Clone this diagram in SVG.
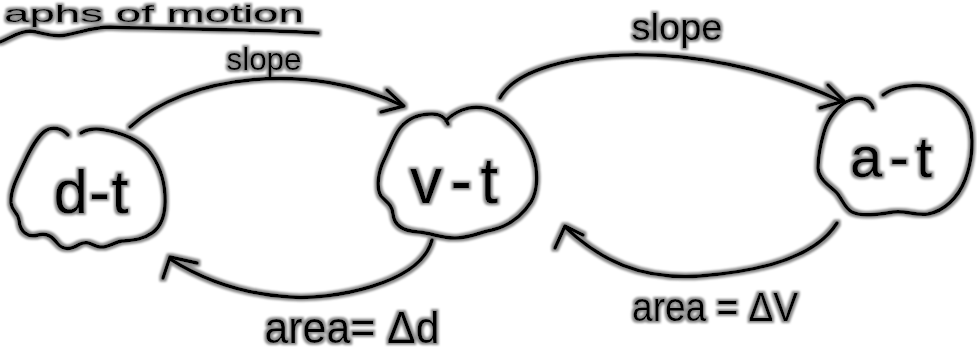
<svg xmlns="http://www.w3.org/2000/svg" width="977" height="360" viewBox="0 0 977 360">
<style>
.ink{fill:none;stroke:#000;stroke-width:3.5;stroke-linecap:round;stroke-linejoin:round}
.t{font-family:"Liberation Sans",Arial,sans-serif;fill:#000;text-anchor:middle}
</style>
<defs>
<filter id="halo" x="-5%" y="-10%" width="110%" height="120%">
<feMorphology in="SourceAlpha" operator="dilate" radius="1.6" result="d"/>
<feGaussianBlur in="d" stdDeviation="1" result="b"/>
<feFlood flood-color="#8a8a8a"/>
<feComposite in2="b" operator="in" result="g"/>
<feMerge><feMergeNode in="g"/><feMergeNode in="SourceGraphic"/></feMerge>
</filter>
</defs>
<rect width="977" height="360" fill="#fff"/>
<g filter="url(#halo)">
<g id="title">
<text x="4" y="22" font-family="Liberation Sans, Arial, sans-serif" font-size="24" textLength="300" lengthAdjust="spacingAndGlyphs">aphs of motion</text>
<path class="ink" d="M0,42 C12,37 20,31 30,31 C42,32 52,38 66,35 C82,32 94,27 110,27 C150,29 250,29 318,33"/>
</g>
<g id="node-dt">
<path class="ink" d="M68,135 C62,128 52,126 45,131 C36,138 30,150 24,163 C18,176 10,190 11,203 C12,212 18,212 19,220 C20,232 28,238 38,235 C48,232 53,238 58,244 C64,251 72,249 80,244 C88,240 93,246 100,247 C108,248 114,242 122,241 C132,240 142,240 152,233 C162,226 166,212 165,195 C164,178 158,162 148,150 C138,140 122,133 105,130 C95,128 86,130 81,133"/>
<text class="t" x="91" y="213" font-size="62" textLength="75" lengthAdjust="spacing">d-t</text>
</g>
<g id="node-vt">
<path class="ink" d="M448,124 C446,118 440,114 432,114 C420,114 408,118 400,128 C393,137 390,148 384,160 C378,172 376,188 381,196 C386,202 392,204 393,214 C394,226 404,231 418,232 C432,233 440,238 455,238 C470,238 480,232 492,230 C508,226 522,216 531,202 C538,190 538,172 534,158 C529,141 518,126 505,117 C492,108 476,104 462,110 C455,113 449,117 446,121"/>
<text class="t" x="454" y="203" font-size="64" textLength="88" lengthAdjust="spacing">v-t</text>
</g>
<g id="node-at">
<path class="ink" d="M873,108 C870,99 860,96 850,100 C838,105 828,118 824,132 C820,146 818,158 818,168 C819,180 830,186 836,192 C842,198 844,208 852,212 C862,217 880,214 893,212 C906,210 915,216 928,214 C944,211 958,198 965,180 C972,162 975,138 968,118 C961,100 944,88 925,86 C908,84 892,88 883,95"/>
<text class="t" x="891" y="177" font-size="58" textLength="82" lengthAdjust="spacing">a-t</text>
</g>
<g id="connectors">
<path class="ink" d="M130,127 C185,75 310,60 403,106"/>
<path class="ink" d="M387,90 L404,106 L381,112"/>
<path class="ink" d="M500,98 C525,50 690,30 843,102"/>
<path class="ink" d="M828,85 L844,101 L820,108"/>
<path class="ink" d="M432,240 C420,285 330,300 290,297 C240,294 200,278 170,259"/>
<path class="ink" d="M197,263 L170,257 L163,278"/>
<path class="ink" d="M837,223 C820,250 780,270 700,276 C640,280 600,260 565,227"/>
<path class="ink" d="M583,235 L565,226 L555,248"/>
</g>
<g id="labels">
<text class="t" x="264" y="70" font-size="32" textLength="75" lengthAdjust="spacingAndGlyphs">slope</text>
<text class="t" x="677" y="40" font-size="36" textLength="91" lengthAdjust="spacingAndGlyphs">slope</text>
<text class="t" x="352" y="343" font-size="44" textLength="175" lengthAdjust="spacingAndGlyphs">area= Δd</text>
<text class="t" x="715" y="321" font-size="40" textLength="166" lengthAdjust="spacingAndGlyphs">area = ΔV</text>
</g>
</g>
</svg>
